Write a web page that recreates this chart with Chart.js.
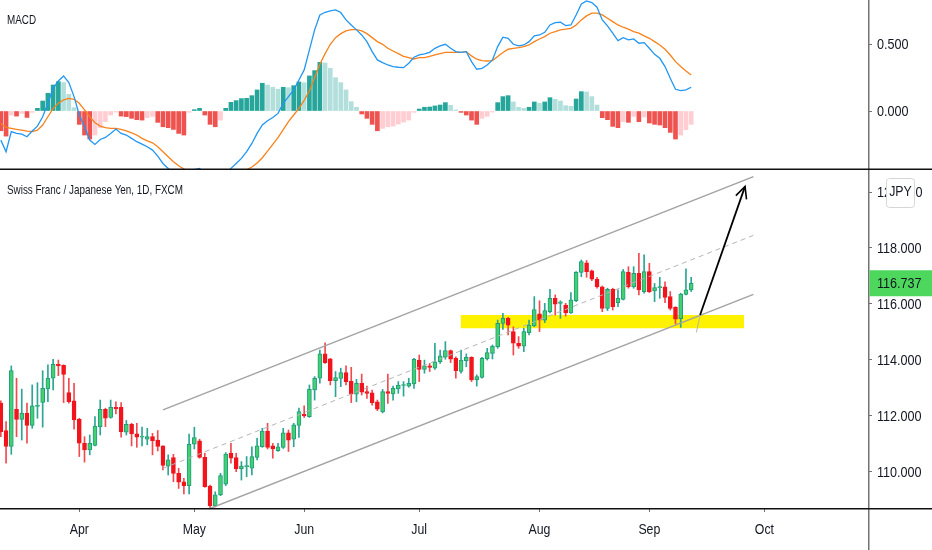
<!DOCTYPE html>
<html>
<head>
<meta charset="utf-8">
<script src="https://cdn.jsdelivr.net/npm/chart.js@4.4.0/dist/chart.umd.min.js"></script>
<style>
html, body { margin: 0; padding: 0; background: #fff; }
#wrap { position: relative; width: 932px; height: 550px; overflow: hidden; }
canvas { position: absolute; left: 0; display: block; }
#macd { top: 0; }
#price { top: 170px; }
</style>
</head>
<body>
<div id="wrap">
  <canvas id="macd" width="932" height="170"></canvas>
  <canvas id="price" width="932" height="380"></canvas>
</div>
<script>
const FONT = '"Liberation Sans", Arial, sans-serif';
const TEXT = '#131722';
const AXIS = '#737373';

// CHF/JPY 1D, one entry per trading day (11 Mar - 11 Sep 2020)
const opens = [
  112.45, 111.47, 110.90, 112.23, 111.87, 112.09, 111.65, 112.33, 112.48, 112.96,
  113.34, 113.84, 113.80, 112.83, 112.53, 111.88, 111.02, 110.78, 110.94, 111.61,
  112.23, 111.94, 112.30, 112.30, 111.41, 111.69, 111.35, 111.23, 111.16, 111.25,
  111.13, 110.92, 110.20, 110.50, 109.94, 109.64, 109.50, 110.98, 111.10, 110.51,
  109.48, 108.78, 109.17, 109.55, 110.66, 110.50, 110.11, 110.18, 110.12, 110.51,
  110.89, 111.45, 110.92, 110.75, 110.87, 111.39, 111.16, 111.65, 112.05, 111.97,
  112.92, 113.34, 114.21, 114.03, 113.25, 113.33, 113.54, 113.24, 112.77, 113.16,
  112.86, 112.82, 112.50, 112.14, 112.86, 112.78, 112.96, 113.08, 113.06, 113.14,
  113.99, 113.66, 113.78, 113.70, 113.93, 114.09, 114.33, 114.05, 113.58, 113.97,
  114.09, 113.28, 113.37, 114.03, 114.23, 114.47, 115.30, 115.48, 115.01, 114.59,
  114.49, 114.97, 115.21, 115.64, 115.42, 115.72, 116.20, 116.02, 115.96, 115.68,
  116.11, 117.12, 117.47, 117.18, 116.88, 116.61, 115.84, 116.52, 116.04, 116.16,
  117.13, 116.61, 117.09, 116.44, 117.15, 116.46, 116.58, 116.61, 116.26, 115.88,
  115.47, 116.34, 116.50
];
const highs = [
  112.53, 111.79, 113.78, 113.34, 112.95, 112.45, 113.10, 113.18, 113.61, 113.82,
  114.02, 113.99, 113.82, 113.34, 113.16, 111.91, 111.25, 111.31, 111.97, 112.56,
  112.27, 112.56, 112.50, 112.47, 111.83, 111.73, 111.73, 111.59, 111.55, 111.37,
  111.47, 110.92, 110.60, 110.62, 110.12, 109.76, 111.34, 111.59, 111.16, 110.66,
  109.52, 109.28, 109.94, 110.68, 111.01, 110.66, 110.36, 110.54, 110.89, 111.19,
  111.55, 111.73, 111.01, 111.01, 111.55, 111.49, 111.73, 112.27, 112.35, 113.10,
  113.40, 114.35, 114.61, 114.05, 113.58, 113.70, 113.78, 113.73, 113.30, 113.49,
  113.06, 112.92, 112.56, 112.94, 113.49, 113.06, 113.22, 113.22, 113.34, 114.05,
  114.17, 113.99, 113.87, 114.59, 114.35, 114.65, 114.35, 114.11, 114.35, 114.21,
  114.11, 113.46, 114.09, 114.41, 114.53, 115.42, 115.66, 115.52, 115.18, 114.83,
  115.13, 115.42, 116.26, 116.11, 116.02, 116.52, 116.32, 116.11, 116.02, 116.40,
  117.15, 117.57, 117.55, 117.21, 116.95, 116.64, 116.56, 116.56, 116.50, 117.23,
  117.33, 117.33, 117.81, 117.75, 117.45, 116.73, 116.95, 116.79, 116.44, 115.90,
  116.38, 117.25, 116.95
];
const lows = [
  111.25, 110.30, 110.62, 111.25, 111.13, 111.02, 111.55, 111.91, 111.59, 112.50,
  112.92, 113.43, 112.47, 112.45, 111.52, 110.54, 110.34, 110.60, 110.92, 111.31,
  111.61, 111.91, 112.06, 111.23, 111.31, 110.92, 110.87, 110.92, 110.96, 110.60,
  110.74, 110.06, 109.88, 109.64, 109.40, 109.20, 109.20, 110.81, 110.48, 109.44,
  108.69, 108.74, 109.14, 109.50, 110.30, 110.00, 109.70, 109.82, 109.88, 110.42,
  110.87, 110.81, 110.48, 110.72, 110.83, 110.72, 110.89, 111.22, 111.94, 111.94,
  112.56, 113.16, 113.87, 113.10, 112.68, 113.04, 113.10, 112.47, 112.50, 112.74,
  112.62, 112.38, 112.18, 112.10, 112.44, 112.56, 112.80, 112.70, 113.02, 112.98,
  113.22, 113.52, 113.58, 113.66, 113.87, 114.02, 113.90, 113.34, 113.52, 113.75,
  113.22, 113.06, 113.34, 113.99, 114.03, 114.41, 115.09, 114.89, 114.17, 114.41,
  114.29, 114.89, 115.18, 115.01, 115.33, 115.68, 115.60, 115.48, 115.56, 115.66,
  116.08, 116.97, 116.95, 116.83, 116.56, 115.72, 115.76, 115.78, 115.90, 116.14,
  116.56, 116.56, 116.32, 116.38, 116.40, 116.08, 116.20, 116.04, 115.78, 115.28,
  115.16, 116.32, 116.44
];
const closes = [
  111.43, 110.90, 113.61, 111.87, 112.09, 111.65, 112.35, 112.37, 112.98, 113.34,
  113.84, 113.78, 113.48, 112.50, 111.85, 111.02, 110.78, 111.02, 111.63, 112.23,
  111.91, 112.30, 112.24, 111.43, 111.69, 111.35, 111.23, 111.27, 111.25, 111.11,
  110.90, 110.22, 110.42, 109.94, 109.62, 109.50, 110.98, 111.22, 110.51, 109.46,
  108.78, 109.17, 109.86, 110.63, 110.48, 110.10, 110.20, 110.20, 110.54, 110.92,
  111.45, 110.87, 110.81, 110.89, 111.39, 111.13, 111.67, 112.15, 111.99, 112.94,
  113.34, 114.21, 113.90, 113.25, 113.36, 113.54, 113.22, 112.77, 113.16, 112.84,
  112.80, 112.47, 112.23, 112.86, 112.80, 112.98, 113.10, 113.11, 113.16, 114.02,
  113.66, 113.78, 113.73, 113.93, 114.14, 114.33, 114.02, 113.61, 113.99, 114.09,
  113.28, 113.40, 114.05, 114.26, 114.49, 115.30, 115.48, 115.24, 114.59, 114.49,
  115.01, 115.24, 115.80, 115.42, 115.76, 116.20, 115.99, 116.07, 115.68, 116.14,
  117.13, 117.51, 117.15, 116.88, 116.61, 115.84, 116.52, 115.90, 116.20, 117.15,
  116.61, 117.09, 116.50, 117.15, 116.44, 116.58, 116.61, 116.23, 115.84, 115.45,
  116.35, 116.50, 116.737
];

// MACD (12, 26, 9)
const macdLine = [
  -0.218, -0.305, -0.155, -0.168, -0.173, -0.193, -0.150, -0.113, -0.043, 0.058,
  0.170, 0.225, 0.263, 0.213, 0.108, -0.030, -0.118, -0.218, -0.250, -0.213,
  -0.198, -0.168, -0.135, -0.168, -0.180, -0.205, -0.230, -0.248, -0.268, -0.293,
  -0.338, -0.393, -0.430, -0.460, -0.490, -0.520, -0.460, -0.440, -0.430, -0.470,
  -0.550, -0.580, -0.550, -0.470, -0.430, -0.393, -0.355, -0.305, -0.243, -0.168,
  -0.105, -0.073, -0.048, -0.018, 0.058, 0.108, 0.158, 0.233, 0.308, 0.458,
  0.608, 0.720, 0.740, 0.750, 0.758, 0.738, 0.683, 0.645, 0.608, 0.570,
  0.520, 0.445, 0.383, 0.363, 0.345, 0.333, 0.328, 0.325, 0.358, 0.403,
  0.420, 0.428, 0.440, 0.470, 0.488, 0.500, 0.470, 0.445, 0.440, 0.445,
  0.370, 0.313, 0.320, 0.345, 0.383, 0.483, 0.553, 0.545, 0.500, 0.488,
  0.495, 0.520, 0.563, 0.570, 0.590, 0.645, 0.663, 0.665, 0.640, 0.645,
  0.720, 0.803, 0.825, 0.813, 0.778, 0.683, 0.638, 0.583, 0.528, 0.550,
  0.533, 0.540, 0.508, 0.513, 0.470, 0.425, 0.395, 0.333, 0.245, 0.163,
  0.153, 0.158, 0.178
];
const signalLine = [
  -0.093, -0.123, -0.130, -0.138, -0.143, -0.150, -0.155, -0.143, -0.105, -0.043,
  0.020, 0.058, 0.083, 0.095, 0.088, 0.058, 0.008, -0.043, -0.088, -0.113,
  -0.125, -0.130, -0.130, -0.138, -0.148, -0.163, -0.180, -0.205, -0.223, -0.238,
  -0.268, -0.305, -0.343, -0.380, -0.410, -0.435, -0.460, -0.460, -0.460, -0.470,
  -0.480, -0.490, -0.490, -0.480, -0.470, -0.460, -0.450, -0.440, -0.420, -0.390,
  -0.350, -0.300, -0.250, -0.200, -0.140, -0.080, -0.030, 0.020, 0.080, 0.150,
  0.250, 0.350, 0.430, 0.500, 0.550, 0.580, 0.600, 0.610, 0.610, 0.600,
  0.580, 0.550, 0.520, 0.500, 0.470, 0.450, 0.430, 0.410, 0.400, 0.390,
  0.400, 0.400, 0.410, 0.420, 0.430, 0.440, 0.440, 0.440, 0.440, 0.445,
  0.413, 0.388, 0.378, 0.375, 0.378, 0.408, 0.438, 0.463, 0.470, 0.475,
  0.483, 0.495, 0.520, 0.540, 0.558, 0.583, 0.595, 0.608, 0.613, 0.620,
  0.645, 0.683, 0.713, 0.733, 0.733, 0.720, 0.695, 0.670, 0.645, 0.628,
  0.613, 0.595, 0.583, 0.563, 0.545, 0.520, 0.495, 0.463, 0.420, 0.370,
  0.333, 0.300, 0.270
];
const macdHist = [
  -0.148, -0.188, -0.030, -0.038, -0.018, -0.048, -0.010, 0.020, 0.075, 0.133,
  0.195, 0.220, 0.213, 0.125, 0.025, -0.100, -0.180, -0.210, -0.180, -0.125,
  -0.080, -0.030, -0.008, -0.038, -0.042, -0.055, -0.065, -0.068, -0.050, -0.040,
  -0.085, -0.118, -0.125, -0.138, -0.168, -0.180, -0.010, 0.010, 0.020, -0.030,
  -0.100, -0.118, -0.068, 0.020, 0.065, 0.078, 0.093, 0.095, 0.115, 0.158,
  0.208, 0.195, 0.178, 0.163, 0.178, 0.175, 0.190, 0.218, 0.212, 0.263,
  0.303, 0.365, 0.360, 0.320, 0.250, 0.213, 0.158, 0.070, 0.028, -0.022,
  -0.055, -0.100, -0.148, -0.130, -0.118, -0.113, -0.098, -0.083, -0.068, -0.010,
  0.015, 0.028, 0.030, 0.038, 0.045, 0.063, 0.043, 0.008, -0.010, -0.030,
  -0.068, -0.100, -0.055, -0.040, -0.008, 0.063, 0.108, 0.115, 0.068, 0.028,
  0.020, 0.028, 0.068, 0.058, 0.068, 0.100, 0.088, 0.075, 0.040, 0.035,
  0.090, 0.145, 0.143, 0.108, 0.045, -0.050, -0.065, -0.115, -0.125, -0.080,
  -0.085, -0.040, -0.080, -0.045, -0.090, -0.100, -0.105, -0.125, -0.160, -0.210,
  -0.180, -0.140, -0.100
];

// axis ticks (x = trading-day index, 0 = 11 Mar 2020)
const monthTicks = [15, 37, 58, 80, 103, 124, 146];
const monthLabels = ['Apr', 'May', 'Jun', 'Jul', 'Aug', 'Sep', 'Oct'];
const priceTicks = [110, 112, 114, 116, 118, 120];
const macdTicks = [0, 0.5];

// drawings on the price pane, as [bar index, price]
const channelTop = [[31.0, 112.21], [143.9, 120.55]];
const channelMid = [[31.0, 110.12], [143.9, 118.45]];
const channelBottom = [[31.0, 108.02], [143.9, 116.34]];
const zoneBars = [87.9, 142.1];
const zonePrices = [115.13, 115.60];
const arrowPath = [[133.7, 115.60], [142.3, 120.20]];
const arrowTail = [[133.0, 114.98], [133.7, 115.60]];

const xMin = -0.16, xMax = 165.81;

const UP = '#43d070', UP_EDGE = '#1f9d7d', UP_WICK = '#2ba594';
const DN = '#f2141c', DN_WICK = '#f04a50';

const bars = closes.map((c, i) => i);
const isUp = i => closes[i] >= opens[i];
const pts = arr => arr.map(p => ({ x: p[0], y: p[1] }));

function histColor(ctx) {
    const i = ctx.dataIndex;
    const h = macdHist[i];
    const prev = i > 0 ? macdHist[i - 1] : 0;
    if (h >= 0) return h >= prev ? '#26a69a' : '#b2dfdb';
    return h < prev ? '#ef5350' : '#ffcdd2';
}

// narrow text: the original UI font is condensed
function narrowText(ctx, text, x, y, size, squeeze, align) {
    ctx.save();
    ctx.translate(x, y);
    ctx.scale(squeeze, 1);
    ctx.font = size + 'px ' + FONT;
    ctx.fillStyle = TEXT;
    ctx.textBaseline = 'middle';
    ctx.textAlign = align || 'left';
    ctx.fillText(text, 0, 0);
    ctx.restore();
}

// lines that run across the full width, the price axis line and axis labels
function frame(bottomLine, title) {
    return {
        id: 'frame',
        afterDraw(chart) {
            const ctx = chart.ctx;
            const a = chart.chartArea;
            ctx.save();
            ctx.strokeStyle = AXIS;
            ctx.lineWidth = 1.5;
            ctx.beginPath();
            ctx.moveTo(a.right + 0.75, 0);
            ctx.lineTo(a.right + 0.75, chart.height);
            ctx.stroke();
            ctx.strokeStyle = '#111';
            ctx.beginPath();
            ctx.moveTo(0, bottomLine);
            ctx.lineTo(chart.width, bottomLine);
            ctx.stroke();
            ctx.restore();

            const ys = chart.scales.y;
            ys.ticks.forEach(t => {
                narrowText(ctx, t.value.toFixed(3), a.right + 9, ys.getPixelForValue(t.value) + 1, 14, 0.9);
            });
            const xs = chart.scales.x;
            if (xs.options.display) {
                xs.ticks.forEach(t => {
                    narrowText(ctx, monthLabels[monthTicks.indexOf(t.value)],
                        xs.getPixelForValue(t.value), a.bottom + 22, 14, 0.88, 'center');
                });
            }
            narrowText(ctx, title, 7, 20, 13, 0.76);
        }
    };
}

const arrowHead = {
    id: 'arrowHead',
    afterDatasetsDraw(chart) {
        const i = chart.data.datasets.findIndex(d => d.label === 'arrow');
        const pts = chart.getDatasetMeta(i).data;
        const p0 = pts[pts.length - 2], p1 = pts[pts.length - 1];
        const ang = Math.atan2(p1.y - p0.y, p1.x - p0.x);
        const len = 13, spread = 0.45;
        const ctx = chart.ctx;
        ctx.save();
        ctx.strokeStyle = '#000';
        ctx.lineWidth = 1.6;
        ctx.beginPath();
        ctx.moveTo(p1.x - len * Math.cos(ang - spread), p1.y - len * Math.sin(ang - spread));
        ctx.lineTo(p1.x, p1.y);
        ctx.lineTo(p1.x - len * Math.cos(ang + spread), p1.y - len * Math.sin(ang + spread));
        ctx.stroke();
        ctx.restore();
    }
};

const priceBadges = {
    id: 'priceBadges',
    afterDraw(chart) {
        const ctx = chart.ctx;
        const a = chart.chartArea;
        const last = closes[closes.length - 1];
        const y = chart.scales.y.getPixelForValue(last);
        ctx.save();
        ctx.fillStyle = '#4dd75d';
        ctx.fillRect(a.right + 1.5, y - 13, chart.width - a.right, 26);
        ctx.restore();
        narrowText(ctx, last.toFixed(3), a.right + 9, y + 1, 14, 0.9);

        // currency button
        ctx.save();
        ctx.fillStyle = '#fff';
        ctx.strokeStyle = '#d6d6d6';
        ctx.lineWidth = 1;
        ctx.beginPath();
        ctx.roundRect(886.5, 8.5, 28, 29, 3);
        ctx.fill();
        ctx.stroke();
        ctx.restore();
        narrowText(ctx, 'JPY', 900.5, 22.5, 14, 0.88, 'center');
    }
};

function yAxis(min, max, ticks) {
    return {
        position: 'right',
        min: min,
        max: max,
        afterFit: s => { s.width = 64; s.paddingTop = 0; s.paddingBottom = 0; },
        afterBuildTicks: s => { s.ticks = ticks.map(v => ({ value: v })); },
        ticks: { display: false },
        grid: { drawOnChartArea: false, tickLength: 4, color: AXIS },
        border: { display: false }
    };
}

const common = {
    responsive: false,
    devicePixelRatio: 1,
    animation: false,
    events: [],
    layout: { padding: 0 },
    plugins: { legend: { display: false }, tooltip: { enabled: false } }
};

new Chart(document.getElementById('macd'), {
    type: 'bar',
    data: {
        datasets: [
            {
                type: 'line', label: 'MACD', order: 1,
                data: bars.map(i => ({ x: i, y: macdLine[i] })),
                borderColor: '#2196f3', borderWidth: 1.3, pointRadius: 0
            },
            {
                type: 'line', label: 'Signal', order: 1,
                data: bars.map(i => ({ x: i, y: signalLine[i] })),
                borderColor: '#f7821b', borderWidth: 1.3, pointRadius: 0
            },
            {
                type: 'bar', label: 'Histogram', order: 2, grouped: false,
                data: bars.map(i => ({ x: i, y: macdHist[i] })),
                backgroundColor: histColor, barThickness: 4
            }
        ]
    },
    options: Object.assign({}, common, {
        scales: {
            x: { type: 'linear', min: xMin, max: xMax, offset: false, display: false },
            y: yAxis(-0.442, 0.832, macdTicks)
        }
    }),
    plugins: [frame(169.25, 'MACD')]
});

const line = (label, arr, color, width, dash, order) => ({
    type: 'line', label: label, order: order, data: pts(arr),
    borderColor: color, borderWidth: width, borderDash: dash || [], pointRadius: 0, fill: false
});

new Chart(document.getElementById('price'), {
    type: 'bar',
    data: {
        datasets: [
            line('arrow', arrowPath, '#000', 1.8, null, 0),
            line('tail', arrowTail, '#b8b8a0', 1, null, 0),
            line('top', channelTop, '#a3a3a3', 1.5, null, 1),
            line('mid', channelMid, '#b5b5b5', 1, [5, 4], 1),
            line('bottom', channelBottom, '#a3a3a3', 1.5, null, 1),
            {
                type: 'bar', label: 'body', order: 2, grouped: false,
                data: bars.map(i => ({ x: i, y: [opens[i], closes[i]] })),
                backgroundColor: c => isUp(c.dataIndex) ? UP : DN,
                borderColor: c => isUp(c.dataIndex) ? UP_EDGE : DN,
                borderWidth: 1, borderSkipped: false, barThickness: 4, minBarLength: 1
            },
            {
                type: 'bar', label: 'wick', order: 3, grouped: false,
                data: bars.map(i => ({ x: i, y: [lows[i], highs[i]] })),
                backgroundColor: c => isUp(c.dataIndex) ? UP_WICK : DN_WICK,
                borderWidth: 0, barThickness: 1
            },
            {
                type: 'line', label: 'zoneTop', order: 5,
                data: zoneBars.map(x => ({ x: x, y: zonePrices[1] })),
                borderColor: 'rgba(0,0,0,0)', borderWidth: 0, pointRadius: 0,
                fill: '+1', backgroundColor: '#fff200'
            },
            {
                type: 'line', label: 'zoneBottom', order: 5,
                data: zoneBars.map(x => ({ x: x, y: zonePrices[0] })),
                borderColor: 'rgba(0,0,0,0)', borderWidth: 0, pointRadius: 0, fill: false
            }
        ]
    },
    options: Object.assign({}, common, {
        scales: {
            x: {
                type: 'linear', min: xMin, max: xMax, offset: false,
                afterFit: s => { s.height = 42; s.paddingLeft = 0; s.paddingRight = 0; },
                afterBuildTicks: s => { s.ticks = monthTicks.map(v => ({ value: v })); },
                ticks: { display: false },
                grid: { drawOnChartArea: false, tickLength: 4, color: AXIS, offset: false },
                border: { display: false }
            },
            y: yAxis(108.70, 120.787, priceTicks)
        }
    }),
    plugins: [frame(338.75, 'Swiss Franc / Japanese Yen, 1D, FXCM'), arrowHead, priceBadges]
});
</script>
</body>
</html>
